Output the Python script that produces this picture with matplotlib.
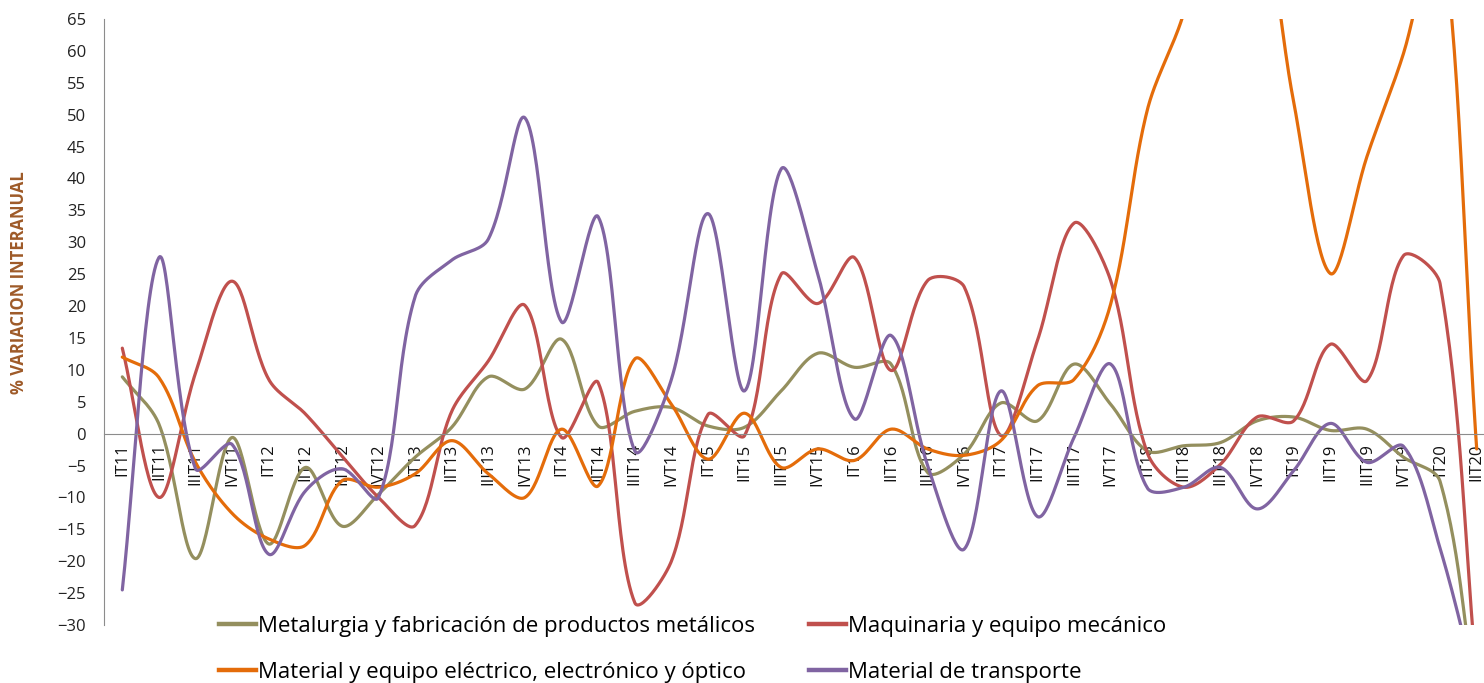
import numpy as np
import matplotlib
matplotlib.use("Agg")
import matplotlib.pyplot as plt
from matplotlib.lines import Line2D

plt.rcParams['font.family'] = ['Open Sans', 'DejaVu Sans']

# quarters IT11 .. IIT20
years = ['11', '12', '13', '14', '15', '16', '17', '18', '19', '20']
quarters = ['IT', 'IIT', 'IIIT', 'IVT']
categories = [q + y for y in years for q in quarters][:38]

metalurgia = [8.9, 1.5, -19.6, -0.6, -17.3, -5.3, -14.5, -9.5, -3.7, 1.0,
              8.9, 7.0, 14.8, 1.2, 3.5, 4.1, 1.2, 1.0, 6.7, 12.6,
              10.4, 10.9, -6.1, -3.2, 4.8, 2.0, 10.9, 4.6, -2.7, -1.9,
              -1.4, 2.0, 2.6, 0.5, 0.7, -3.7, -7.5, -43.0]
maquinaria = [13.4, -10.0, 9.5, 23.9, 8.5, 3.1, -3.5, -10.0, -14.4, 3.5,
              11.4, 20.1, -0.6, 8.0, -26.5, -20.0, 3.0, -0.3, 25.0, 20.4,
              27.6, 9.9, 24.0, 23.0, -0.3, 14.6, 33.0, 24.0, -3.0, -8.4,
              -4.8, 2.6, 2.0, 14.0, 8.3, 27.9, 23.5, -38.0]
electrico = [12.0, 8.8, -4.5, -12.5, -16.5, -17.5, -7.4, -8.4, -6.3, -1.1,
             -6.3, -10.0, 0.7, -8.2, 11.7, 4.6, -4.0, 3.2, -5.3, -2.4,
             -4.2, 0.7, -2.4, -3.4, -1.1, 7.5, 8.5, 20.3, 50.7, 66.0,
             90.0, 85.0, 52.0, 25.1, 43.4, 59.6, 80.0, -2.4]
transporte = [-24.5, 27.6, -5.5, -1.7, -18.9, -9.0, -5.5, -10.0, 21.5, 27.2,
              30.5, 49.5, 17.5, 34.0, -2.7, 8.5, 34.5, 6.7, 41.5, 25.0,
              2.3, 15.4, -5.0, -18.1, 6.7, -13.0, -0.6, 10.9, -8.5, -8.4,
              -5.3, -11.8, -5.8, 1.6, -4.5, -2.0, -18.0, -40.0]

series = [
    ('Metalurgia y fabricación de productos metálicos', metalurgia, '#948F5E'),
    ('Maquinaria y equipo mecánico', maquinaria, '#C0504D'),
    ('Material y equipo eléctrico, electrónico y óptico', electrico, '#E46C0A'),
    ('Material de transporte', transporte, '#8064A2'),
]

# approx. screen size of one unit (px) - smoothing is done in screen space like excel
SX, SY = 36.6, 6.38


def smooth(vals, n=30):
    # excel-like smoothed line: bezier, control points scaled by segment lengths
    v = np.asarray(vals, float)
    P = np.column_stack([np.arange(len(v)) * SX, v * SY])
    P = np.vstack([P[0], P, P[-1]])
    t = np.linspace(0, 1, n, endpoint=False)[:, None]
    out = []
    for i in range(len(v) - 1):
        p0, p1, p2, p3 = P[i], P[i + 1], P[i + 2], P[i + 3]
        d01 = np.hypot(*(p1 - p0))
        d12 = np.hypot(*(p2 - p1))
        d23 = np.hypot(*(p3 - p2))
        f1 = d12 / (d01 + d12) / 3
        f2 = d12 / (d12 + d23) / 3
        c1 = p1 + (p2 - p0) * f1
        c2 = p2 - (p3 - p1) * f2
        seg = (1 - t)**3 * p1 + 3 * (1 - t)**2 * t * c1 + 3 * (1 - t) * t**2 * c2 + t**3 * p2
        out.append(seg)
    out.append(P[-1][None, :])
    out = np.vstack(out)
    return out[:, 0] / SX, out[:, 1] / SY


fig = plt.figure(figsize=(14.84, 6.83), dpi=100)
ax = fig.add_axes([104 / 1484, 58 / 683, 1391 / 1484, 606 / 683])

handles = []
for name, vals, col in series:
    xs, ys = smooth(vals)
    ax.plot(xs, ys, color=col, lw=2.3, solid_capstyle='round', label=name)
    handles.append(Line2D([], [], color=col, lw=3.2, label=name))

ax.set_xlim(-0.5, len(categories) - 0.5)
ax.set_ylim(-30, 65)
ax.set_yticks(np.arange(-30, 66, 5))
ax.tick_params(axis='y', length=0, pad=13, labelsize=12, labelcolor='#222222')

ax.spines['bottom'].set_position(('data', 0))
ax.spines['bottom'].set_color('#8c8c8c')
ax.spines['left'].set_color('#8c8c8c')
ax.spines['top'].set_visible(False)
ax.spines['right'].set_visible(False)
ax.set_xticks(range(len(categories)))
ax.set_xticklabels(categories, rotation=90, fontsize=12, color='#111111')
ax.tick_params(axis='x', length=0, pad=7)

fig.text(19 / 1484, 1 - 283 / 683, '% VARIACION INTERANUAL', rotation=90,
         ha='center', va='center', fontsize=12, fontweight='bold', color='#9E5A28')

order = [0, 2, 1, 3]
fig.legend([handles[i] for i in order], [handles[i].get_label() for i in order],
           ncol=2, loc='upper left', bbox_to_anchor=(208 / 1484, 1 - 605 / 683),
           frameon=False, fontsize=16, handlelength=1.67, handletextpad=0.1,
           columnspacing=2.4, labelspacing=1.1, borderpad=0)

fig.savefig('out.png', dpi=100)
